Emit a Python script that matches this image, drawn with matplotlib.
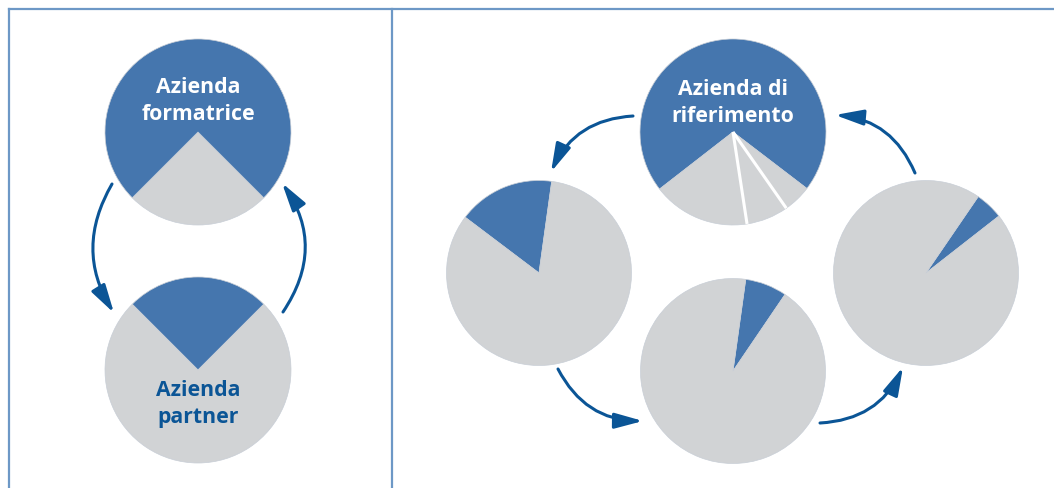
import matplotlib.pyplot as plt
from matplotlib.patches import FancyArrowPatch
import numpy as np

# dati
quota_formatrice = [25, 75]          # grigio, blu
quota_partner = [25, 75]             # blu, grigio
quota_riferimento = [70.9, 16.9, 7.3, 4.9]   # blu, poi tre parti grigie
quote_partner_dx = [16.9, 7.3, 4.9]  # quota blu delle tre aziende partner

etichetta_sx_alto = "Azienda\nformatrice"
etichetta_sx_basso = "Azienda\npartner"
etichetta_dx_alto = "Azienda di\nriferimento"

BLU = "#4576ae"
GRIGIO = "#d1d3d5"
BLU_SCURO = "#0b5596"
BORDO = "#6d98c6"

W, H = 1054, 489
fig = plt.figure(figsize=(W / 100, H / 100), dpi=100)
ax = fig.add_axes([0, 0, 1, 1])
plt.rcParams['font.family'] = ['Open Sans', 'DejaVu Sans']

R = 93


def torta(vals, colori, centro, start, r=R):
    ax.pie(vals, colors=colori, center=centro, radius=r, startangle=start,
           counterclock=True, wedgeprops=dict(linewidth=0.5, edgecolor="#c8ced6"))


# pannello sinistro
torta(quota_formatrice, [GRIGIO, BLU], (198, -133), 225)
torta(quota_partner, [BLU, GRIGIO], (198, -371), 45)

# pannello destro: azienda di riferimento
c_rif = (733, -133)
start_rif = 322.6
torta(quota_riferimento, [BLU, GRIGIO, GRIGIO, GRIGIO], c_rif, start_rif)
angoli = start_rif + np.cumsum(quota_riferimento) / 100 * 360
for a in angoli[1:3]:
    t = np.deg2rad(a)
    ax.plot([c_rif[0], c_rif[0] + R * np.cos(t)], [c_rif[1], c_rif[1] + R * np.sin(t)],
            color="white", lw=2.2, solid_capstyle="butt")

# tre aziende partner
centri = [(539, -274), (733, -372), (926, -274)]
starts = [82.1, 55.8, 38.0]
for q, c, s in zip(quote_partner_dx, centri, starts):
    torta([q, 100 - q], [BLU, GRIGIO], c, s, r=92.5)

# testi
stile = dict(ha="center", va="center", fontsize=15.3, fontweight="bold", linespacing=1.32)
ax.text(198, -101, etichetta_sx_alto, color="white", **stile)
ax.text(198, -404, etichetta_sx_basso, color=BLU_SCURO, **stile)
ax.text(733, -103, etichetta_dx_alto, color="white", **stile)

# frecce
frecce = [
    ((112, 185), (114, 314), 0.3),
    ((283, 313), (282, 184), 0.34),
    ((633, 117), (551, 173), 0.3),
    ((915, 174), (835, 116), 0.3),
    ((558, 370), (643, 422), 0.3),
    ((820, 424), (903, 368), 0.3),
]
for (x0, y0), (x1, y1), rad in frecce:
    ax.add_patch(FancyArrowPatch((x0, -y0), (x1, -y1),
                                 connectionstyle=f"arc3,rad={rad}",
                                 arrowstyle="-|>,head_length=0.95,head_width=0.26",
                                 mutation_scale=18, color=BLU_SCURO, lw=2.2,
                                 shrinkA=0, shrinkB=0))

# cornice
ax.plot([9, W], [-10, -10], color=BORDO, lw=1.6)
ax.plot([9, 9], [-10, -H], color=BORDO, lw=1.6)
ax.plot([392, 392], [-10, -H], color=BORDO, lw=1.6)

ax.set_xlim(0, W)
ax.set_ylim(-H, 0)
ax.set_aspect("equal")
ax.axis("off")

fig.savefig("out.png", dpi=100)
